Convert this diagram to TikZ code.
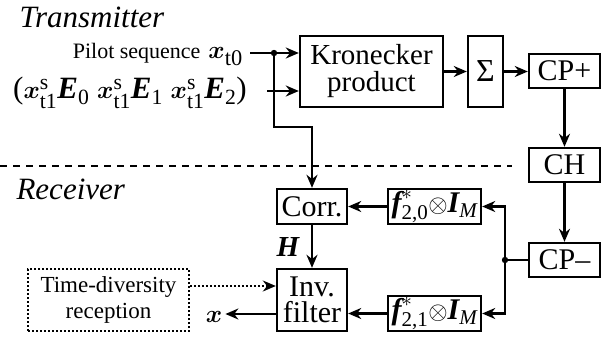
\documentclass[tikz,border=0pt]{standalone}
\usepackage{amsmath}
\usepackage{fontspec}
\setmainfont{Liberation Serif}
\usetikzlibrary{arrows.meta}
\newcommand\bv[1]{\text{\bfseries\itshape #1}}

\begin{document}
\begin{tikzpicture}[x=1pt,y=-1pt,
    blk/.style={draw, line width=2.4pt, inner sep=0pt, align=center,
      font=\fontsize{30}{26}\selectfont},
    dotbox/.style={draw, line width=1.8pt, dash pattern=on 1.8pt off 2.2pt,
      inner sep=0pt, align=center, font=\fontsize{23}{26}\selectfont},
    arr/.style={line width=2.4pt, -{Stealth[length=13pt,width=11pt]}},
    wire/.style={line width=2.4pt}]

    \useasboundingbox (0,0) rectangle (602,342);

    %% Transmitter

    % Titles
    \node[anchor=west, font=\fontsize{31}{31}\selectfont\itshape] (tx) at (16,17) {Transmitter};
    \node[anchor=west, font=\fontsize{31}{31}\selectfont\itshape] (rx) at (13,189) {Receiver};

    % Inputs
    \node[anchor=base east, inner sep=0pt] (pil) at (243,59)
        {{\fontsize{22}{24}\selectfont Pilot sequence}\hspace{8pt}{\fontsize{32}{32}\selectfont$\boldsymbol{x}_{\text{t0}}$}};
    \node[anchor=base east, inner sep=0pt, font=\fontsize{31}{31}\selectfont] (seq) at (247,99)
        {$\text{(}\boldsymbol{x}^{\text{s}}_{\text{t1}}\bv{E}_{\text{0}}\ \boldsymbol{x}^{\text{s}}_{\text{t1}}\bv{E}_{\text{1}}\ \boldsymbol{x}^{\text{s}}_{\text{t1}}\bv{E}_{\text{2}}\text{)}$};

    % Blocks
    \node[blk, minimum width=143pt, minimum height=71pt, font=\fontsize{29}{27}\selectfont] (krn) at (371.5,71.5) {Kronecker\\product};
    \node[blk, minimum width=35pt, minimum height=71pt, font=\fontsize{32}{32}\selectfont] (sig) at (485.5,71.5) {Σ};
    \node[blk, minimum width=71pt, minimum height=34pt] (cpp) at (564.5,71) {CP+};
    \node[blk, minimum width=71pt, minimum height=34pt] (ch) at (564.5,165) {CH};

    %% Receiver

    \node[blk, minimum width=71pt, minimum height=34pt] (cpm) at (564.5,260) {CP–};
    \node[blk, minimum width=70pt, minimum height=35pt] (cor) at (312,206.5) {Corr.};
    \node[blk, minimum width=93pt, minimum height=35pt, font=\fontsize{30}{30}\selectfont] (fa) at (434.5,206.5)
        {$\bv{f}^{*}_{\text{2,0}}{\otimes}\bv{I}_{\text{\itshape M}}$};
    \node[blk, minimum width=93pt, minimum height=35pt, font=\fontsize{30}{30}\selectfont] (fb) at (434.5,313.5)
        {$\bv{f}^{*}_{\text{2,1}}{\otimes}\bv{I}_{\text{\itshape M}}$};
    \node[blk, minimum width=70pt, minimum height=62pt] (inv) at (312,300) {Inv.\\filter};
    \node[dotbox, minimum width=161pt, minimum height=62pt] (tdr) at (108.5,300) {Time-diversity\\reception};

    % Labels
    \node[font=\fontsize{29}{29}\selectfont] (hl) at (288,247) {$\bv{H}$};
    \node[font=\fontsize{32}{32}\selectfont, inner sep=3pt] (xo) at (214,317) {$\boldsymbol{x}$};

    % Points
    \coordinate (p0) at (250,53);
    \coordinate (p1) at (267,91);
    \coordinate (j1) at (274,53);
    \coordinate (bend) at (312,127);
    \coordinate (j2) at (505,260);
    \coordinate (dl) at (0,166);
    \coordinate (dr) at (512,166);

    % Transmitter path
    \draw[arr] (p0) -- (p0 -| krn.west);
    \draw[arr] (p1) -- (p1 -| krn.west);
    \draw[arr] (j1) |- (bend) -- (cor.north);
    \fill (j1) circle(3.2);
    \draw[arr] (krn) -- (sig);
    \draw[arr] (sig.east) -- (sig.east -| cpp.west);
    \draw[arr] (cpp) -- (ch);
    \draw[arr] (ch) -- (cpm);

    % Receiver path
    \draw[wire] (cpm) -- (j2);
    \fill (j2) circle(3.2);
    \draw[arr] (j2) |- (fa);
    \draw[arr] (j2) |- (fb);
    \draw[arr] (fa) -- (cor);
    \draw[arr] (fb.west) -- (fb.west -| inv.east);
    \draw[arr] (cor) -- (inv);
    \draw[arr, dash pattern=on 1.8pt off 2.2pt, line width=1.8pt] ([yshift=14pt]tdr.east) -- ([yshift=14pt]tdr.east -| inv.west);
    \draw[arr] ([yshift=-14pt]inv.west) -- ([yshift=-14pt]inv.west -| xo.east);

    % Separator
    \draw[line width=1.2pt, dash pattern=on 7pt off 6pt] (dl) -- (dr);

\end{tikzpicture}
\end{document}
